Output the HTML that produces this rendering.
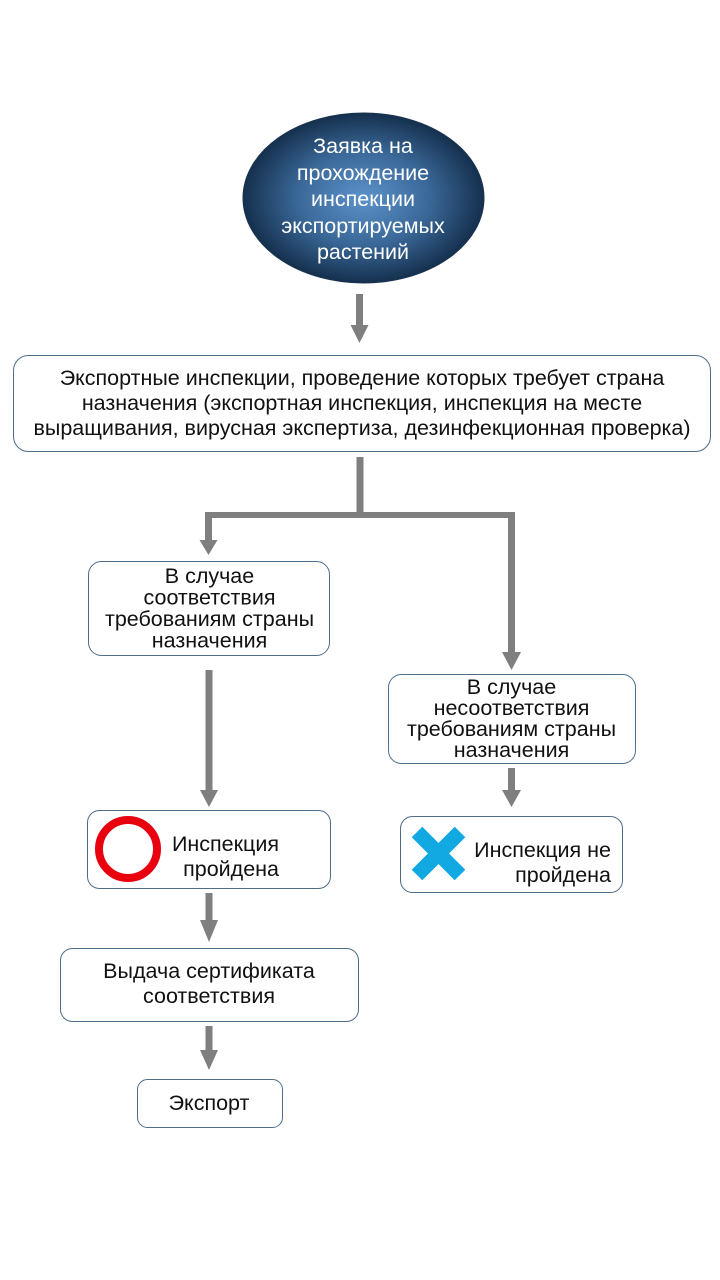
<!DOCTYPE html>
<html>
<head>
<meta charset="utf-8">
<style>
html,body{margin:0;padding:0;background:#fff;}
svg{display:block;}
text{font-family:"Liberation Sans","DejaVu Sans",sans-serif;font-size:21.5px;fill:#111;}
.w{fill:#fff;}
</style>
</head>
<body>
<svg width="720" height="1280" viewBox="0 0 720 1280" xmlns="http://www.w3.org/2000/svg">
<defs>
<radialGradient id="eg" cx="50%" cy="50%" r="50%">
<stop offset="0%" stop-color="#5c92ca"/>
<stop offset="55%" stop-color="#3a6898"/>
<stop offset="100%" stop-color="#15304e"/>
</radialGradient>
</defs>
<rect width="720" height="1280" fill="#fff"/>

<!-- Ellipse -->
<ellipse cx="363.5" cy="198" rx="120.5" ry="85" fill="url(#eg)" stroke="#1a334f" stroke-width="1"/>
<g text-anchor="middle">
<text class="w" x="363" y="153">Заявка на</text>
<text class="w" x="363" y="180">прохождение</text>
<text class="w" x="363" y="206">инспекции</text>
<text class="w" x="363" y="233">экспортируемых</text>
<text class="w" x="363" y="259">растений</text>
</g>

<!-- connectors -->
<g fill="#7f7f7f">
<rect x="356" y="294" width="7" height="32"/>
<polygon points="350.5,325 368.5,325 359.5,343"/>
<rect x="356.5" y="457" width="7" height="60"/>
<rect x="205" y="512" width="310" height="6"/>
<rect x="205" y="512" width="7" height="29"/>
<polygon points="199.5,540 217.5,540 208.5,555"/>
<rect x="508" y="512" width="7" height="141"/>
<polygon points="502,652 521,652 511.5,670"/>
<rect x="205.5" y="670" width="7" height="121"/>
<polygon points="200,790 218,790 209,807"/>
<rect x="205.5" y="893" width="7" height="28"/>
<polygon points="200,920 218,920 209,942"/>
<rect x="205.5" y="1026" width="7" height="25"/>
<polygon points="200,1050 218,1050 209,1070"/>
<rect x="508" y="768" width="7" height="23"/>
<polygon points="502,790 521,790 511.5,807"/>
</g>

<!-- boxes -->
<g fill="#fff" stroke="#4d6d8a" stroke-width="1">
<rect x="13.5" y="355.5" width="697" height="96" rx="15"/>
<rect x="88.5" y="561.5" width="241" height="94" rx="13"/>
<rect x="388.5" y="674.5" width="247" height="89" rx="13"/>
<rect x="87.5" y="810.5" width="243" height="78" rx="12"/>
<rect x="400.5" y="816.5" width="222" height="76" rx="12"/>
<rect x="60.5" y="948.5" width="298" height="73" rx="12"/>
<rect x="137.5" y="1079.5" width="145" height="48" rx="10"/>
</g>

<g text-anchor="middle">
<text x="362" y="385">Экспортные инспекции, проведение которых требует страна</text>
<text x="362" y="410">назначения (экспортная инспекция, инспекция на месте</text>
<text x="362" y="435">выращивания, вирусная экспертиза, дезинфекционная проверка)</text>

<text x="209.5" y="583">В случае</text>
<text x="209.5" y="604.5">соответствия</text>
<text x="209.5" y="626">требованиям страны</text>
<text x="209.5" y="647.5">назначения</text>

<text x="511.5" y="694">В случае</text>
<text x="511.5" y="715">несоответствия</text>
<text x="511.5" y="736">требованиям страны</text>
<text x="511.5" y="757">назначения</text>

<text x="209" y="978">Выдача сертификата</text>
<text x="209" y="1003">соответствия</text>

<text x="209" y="1110">Экспорт</text>
</g>

<g text-anchor="end">
<text x="279" y="851">Инспекция</text>
<text x="279" y="876">пройдена</text>
<text x="611" y="857">Инспекция не</text>
<text x="611" y="882">пройдена</text>
</g>

<circle cx="128" cy="849" r="29" fill="none" stroke="#e8000f" stroke-width="8"/>

<g stroke="#12a9e3" stroke-width="15" stroke-linecap="butt">
<line x1="417" y1="832" x2="460" y2="875"/>
<line x1="460" y1="832" x2="417" y2="875"/>
</g>
</svg>
</body>
</html>
